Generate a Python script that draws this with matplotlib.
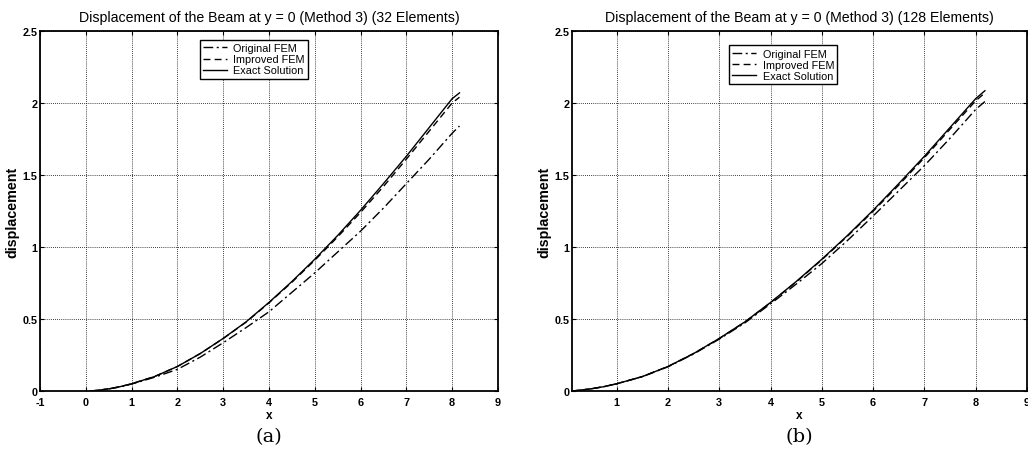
import matplotlib.pyplot as plt
import numpy as np

# values
x_a = [0.1, 0.25, 0.5, 0.75, 1, 1.5, 2, 2.5, 3, 3.5, 4, 4.5, 5, 5.5, 6, 6.5, 7, 7.5, 8, 8.16]
exact_a = [0.0, 0.004, 0.015, 0.03, 0.05, 0.1, 0.17, 0.26, 0.365, 0.48, 0.615, 0.76, 0.915,
           1.08, 1.255, 1.44, 1.63, 1.83, 2.03, 2.07]
improved_a = [0.0, 0.004, 0.015, 0.03, 0.05, 0.1, 0.17, 0.26, 0.364, 0.478, 0.612, 0.755, 0.908,
              1.07, 1.24, 1.42, 1.61, 1.805, 2.0, 2.04]
original_a = [0.0, 0.004, 0.014, 0.028, 0.048, 0.095, 0.15, 0.235, 0.335, 0.44, 0.55, 0.685, 0.82,
              0.965, 1.11, 1.27, 1.44, 1.61, 1.79, 1.84]

x_b = [0.128, 0.25, 0.5, 0.75, 1, 1.5, 2, 2.5, 3, 3.5, 4, 4.5, 5, 5.5, 6, 6.5, 7, 7.5, 8, 8.18]
exact_b = [0.0, 0.004, 0.015, 0.03, 0.05, 0.1, 0.17, 0.26, 0.365, 0.48, 0.615, 0.76, 0.915,
           1.08, 1.255, 1.44, 1.63, 1.83, 2.03, 2.085]
improved_b = [0.0, 0.004, 0.015, 0.03, 0.05, 0.1, 0.17, 0.26, 0.364, 0.479, 0.613, 0.757, 0.911,
              1.075, 1.248, 1.43, 1.62, 1.818, 2.015, 2.07]
original_b = [0.0, 0.004, 0.015, 0.03, 0.05, 0.099, 0.168, 0.257, 0.36, 0.473, 0.605, 0.742, 0.885,
              1.045, 1.215, 1.39, 1.565, 1.755, 1.955, 2.01]

titles = ['Displacement of the Beam at y = 0 (Method 3) (32 Elements)',
          'Displacement of the Beam at y = 0 (Method 3) (128 Elements)']
captions = ['(a)', '(b)']
labels = ['Original FEM', 'Improved FEM', 'Exact Solution']

plt.rcParams['font.family'] = ['Liberation Sans', 'DejaVu Sans']
plt.rcParams['axes.unicode_minus'] = False

fig = plt.figure(figsize=(10.28, 4.56), dpi=100)
ax_a = fig.add_axes([0.0389, 0.1404, 0.4455, 0.7895])
ax_b = fig.add_axes([0.5564, 0.1404, 0.4426, 0.7895])

panels = [
    (ax_a, x_a, original_a, improved_a, exact_a, (-1, 9), list(range(-1, 10)), (0.349, 0.975)),
    (ax_b, x_b, original_b, improved_b, exact_b, (0.128, 9), list(range(1, 10)), (0.345, 0.96)),
]

for i, (ax, xs, orig, imp, ex, xlim, xt, leg_pos) in enumerate(panels):
    ax.plot(xs, orig, color='black', lw=1.0, ls=(0, (7, 2.5, 1.5, 2.5)), label=labels[0])
    ax.plot(xs, imp, color='black', lw=1.0, ls=(0, (5, 3)), label=labels[1])
    ax.plot(xs, ex, color='black', lw=1.0, ls='-', label=labels[2])
    ax.set_xlim(*xlim)
    ax.set_ylim(0, 2.5)
    ax.set_xticks(xt)
    ax.set_xticklabels([str(v) for v in xt])
    ax.set_yticks([0, 0.5, 1, 1.5, 2, 2.5])
    ax.set_yticklabels(['0', '0.5', '1', '1.5', '2', '2.5'])
    ax.grid(True, color='black', ls=(0, (1, 1.5)), lw=0.6)
    ax.tick_params(axis='both', direction='in', length=3, width=0.8, labelsize=7.8,
                   top=True, right=True)
    ax.tick_params(axis='x', pad=4)
    ax.tick_params(axis='y', pad=2)
    for lab in ax.get_xticklabels() + ax.get_yticklabels():
        lab.set_fontweight('bold')
    for sp in ax.spines.values():
        sp.set_linewidth(1.3)
    ax.set_title(titles[i], fontsize=10.2, pad=7)
    ax.set_xlabel('x', fontsize=8.5, fontweight='bold', labelpad=2)
    ax.set_ylabel('displacement', fontsize=10.3, fontweight='bold', labelpad=2)
    leg = ax.legend(loc='upper left', bbox_to_anchor=leg_pos, borderaxespad=0,
                    fontsize=7.8, frameon=True, fancybox=False, framealpha=1,
                    edgecolor='black', handlelength=2.2, handletextpad=0.6,
                    borderpad=0.3, labelspacing=0.1)
    leg.get_frame().set_linewidth(1.0)
    ax.text(0.5, -0.125, captions[i], transform=ax.transAxes, ha='center', va='center',
            fontsize=14, family=['DejaVu Serif'])

fig.savefig('out.png', dpi=100)
